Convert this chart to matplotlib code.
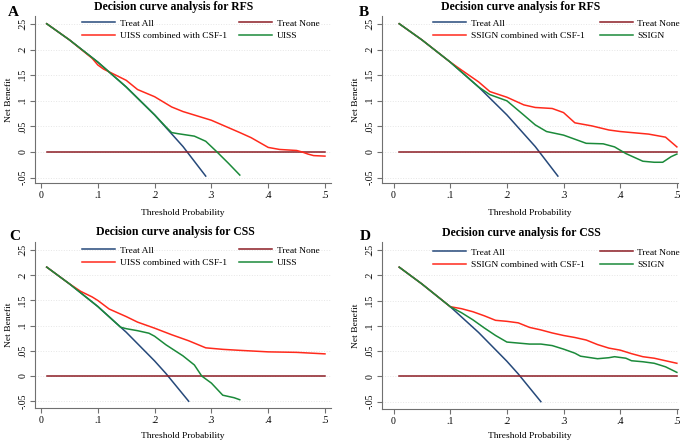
import matplotlib
matplotlib.use("Agg")
import matplotlib.pyplot as plt

plt.rcParams['font.family'] = ['Liberation Serif', 'DejaVu Serif']

# ---------------- data ----------------
# Treat All (RFS)
ta_rfs_x = [0.01, 0.05, 0.10, 0.15, 0.20, 0.25, 0.29]
ta_rfs_y = [0.2505, 0.219, 0.1756, 0.127, 0.0725, 0.0107, -0.047]
# Treat All (CSS)
ta_css_x = [0.01, 0.05, 0.10, 0.15, 0.20, 0.22, 0.26]
ta_css_y = [0.2162, 0.183, 0.138, 0.087, 0.030, 0.005, -0.050]
# Treat None
tn_x = [0.01, 0.50]
tn_y = [0.0, 0.0]

# Panel A
a_red_x = [0.01, 0.05, 0.09, 0.10, 0.11, 0.13, 0.15, 0.17, 0.20, 0.23, 0.25, 0.30,
           0.35, 0.37, 0.40, 0.42, 0.45, 0.46, 0.47, 0.48, 0.50]
a_red_y = [0.2505, 0.219, 0.183, 0.170, 0.162, 0.151, 0.140, 0.122, 0.108, 0.088, 0.079,
           0.062, 0.038, 0.028, 0.009, 0.005, 0.003, 0.0, -0.004, -0.007, -0.008]
a_grn_x = [0.01, 0.05, 0.10, 0.15, 0.20, 0.22, 0.23, 0.24, 0.27, 0.29, 0.31, 0.33, 0.35]
a_grn_y = [0.2505, 0.219, 0.1756, 0.127, 0.0725, 0.049, 0.038, 0.036, 0.031, 0.021,
           0.0, -0.022, -0.045]

# Panel B
b_red_x = [0.01, 0.05, 0.10, 0.12, 0.15, 0.17, 0.20, 0.23, 0.25, 0.28, 0.30, 0.32,
           0.35, 0.38, 0.40, 0.45, 0.48, 0.50]
b_red_y = [0.2505, 0.219, 0.1756, 0.160, 0.137, 0.118, 0.107, 0.092, 0.087, 0.085,
           0.077, 0.057, 0.051, 0.043, 0.040, 0.035, 0.029, 0.010]
b_grn_x = [0.01, 0.05, 0.10, 0.15, 0.17, 0.20, 0.23, 0.25, 0.27, 0.30, 0.32, 0.34,
           0.37, 0.39, 0.41, 0.44, 0.46, 0.475, 0.49, 0.50]
b_grn_y = [0.2505, 0.219, 0.1756, 0.127, 0.112, 0.100, 0.072, 0.053, 0.040, 0.033,
           0.025, 0.017, 0.016, 0.010, -0.003, -0.018, -0.020, -0.020, -0.009, -0.004]

# Panel C
c_red_x = [0.01, 0.05, 0.07, 0.09, 0.10, 0.12, 0.15, 0.17, 0.20, 0.23, 0.26, 0.29,
           0.32, 0.35, 0.40, 0.45, 0.50]
c_red_y = [0.2162, 0.183, 0.168, 0.157, 0.150, 0.133, 0.118, 0.107, 0.095, 0.082,
           0.070, 0.056, 0.053, 0.051, 0.048, 0.047, 0.044]
c_grn_x = [0.01, 0.05, 0.10, 0.14, 0.15, 0.17, 0.19, 0.20, 0.22, 0.25, 0.27, 0.283,
           0.30, 0.32, 0.34, 0.35]
c_grn_y = [0.2162, 0.183, 0.138, 0.097, 0.094, 0.090, 0.085, 0.079, 0.062, 0.040,
           0.022, 0.0, -0.014, -0.038, -0.043, -0.047]

# Panel D
d_red_x = [0.01, 0.05, 0.10, 0.12, 0.14, 0.16, 0.18, 0.20, 0.22, 0.24, 0.26, 0.28,
           0.30, 0.32, 0.34, 0.36, 0.38, 0.40, 0.42, 0.44, 0.46, 0.48, 0.50]
d_red_y = [0.2162, 0.183, 0.138, 0.134, 0.128, 0.120, 0.111, 0.109, 0.106, 0.097,
           0.092, 0.086, 0.081, 0.077, 0.072, 0.063, 0.056, 0.052, 0.045, 0.039,
           0.036, 0.031, 0.026]
d_grn_x = [0.01, 0.05, 0.10, 0.12, 0.14, 0.16, 0.18, 0.20, 0.22, 0.24, 0.26, 0.28,
           0.30, 0.32, 0.33, 0.36, 0.38, 0.39, 0.41, 0.42, 0.44, 0.46, 0.48, 0.50]
d_grn_y = [0.2162, 0.183, 0.138, 0.126, 0.112, 0.096, 0.081, 0.068, 0.066, 0.064,
           0.064, 0.061, 0.054, 0.046, 0.040, 0.035, 0.037, 0.039, 0.036, 0.031,
           0.029, 0.026, 0.019, 0.008]

xticks = [0, 0.1, 0.2, 0.3, 0.4, 0.5]
xticklabels = ['0', '.1', '.2', '.3', '.4', '.5']
yticks = [-0.05, 0, 0.05, 0.1, 0.15, 0.2, 0.25]
yticklabels = ['-.05', '0', '.05', '.1', '.15', '.2', '.25']

C_ALL = '#26497a'
C_NONE = '#8c1c24'
C_RED = '#ff2a1c'
C_GRN = '#1b8a3a'

W, H = 685, 442
fig = plt.figure(figsize=(W / 100, H / 100), dpi=100)


def px_axes(left, right, top, bottom):
    return fig.add_axes([left / W, 1 - bottom / H, (right - left) / W, (bottom - top) / H])


panels = [
    dict(box=(35, 331, 16, 183), xlim=(-0.0106, 0.5106), ylim=(-0.0605, 0.2656),
         ta=(ta_rfs_x, ta_rfs_y), red=(a_red_x, a_red_y), grn=(a_grn_x, a_grn_y),
         model='UISS', title='Decision curve analysis for RFS', letter='A',
         title_xy=(174, 7), letter_xy=(13, 13), leg_xy=(82, 19), colsp=1.3, xlp=7),
    dict(box=(382, 678, 16, 183), xlim=(-0.0204, 0.502), ylim=(-0.0605, 0.2656),
         ta=(ta_rfs_x, ta_rfs_y), red=(b_red_x, b_red_y), grn=(b_grn_x, b_grn_y),
         model='SSIGN', title='Decision curve analysis for RFS', letter='B',
         title_xy=(521, 7), letter_xy=(364, 12), leg_xy=(433, 19), colsp=1.6, xlp=7),
    dict(box=(35, 331, 242, 408), xlim=(-0.0106, 0.5106), ylim=(-0.0634, 0.266),
         ta=(ta_css_x, ta_css_y), red=(c_red_x, c_red_y), grn=(c_grn_x, c_grn_y),
         model='UISS', title='Decision curve analysis for CSS', letter='C',
         title_xy=(175, 232), letter_xy=(15, 237), leg_xy=(82, 246), colsp=1.3, xlp=5),
    dict(box=(382, 678, 242, 409), xlim=(-0.0204, 0.502), ylim=(-0.0645, 0.266),
         ta=(ta_css_x, ta_css_y), red=(d_red_x, d_red_y), grn=(d_grn_x, d_grn_y),
         model='SSIGN', title='Decision curve analysis for CSS', letter='D',
         title_xy=(521, 233), letter_xy=(365, 237), leg_xy=(433, 248), colsp=1.6, xlp=4.5),
]

for p in panels:
    ax = px_axes(*p['box'])
    ax.set_xlim(*p['xlim'])
    ax.set_ylim(*p['ylim'])
    for s in ['top', 'right']:
        ax.spines[s].set_visible(False)
    for s in ['left', 'bottom']:
        ax.spines[s].set_color('#707070')
        ax.spines[s].set_linewidth(0.8)
    ax.set_xticks(xticks)
    ax.set_xticklabels(xticklabels)
    ax.set_yticks(yticks)
    ax.set_yticklabels(yticklabels, rotation=90, va='center')
    ax.tick_params(axis='both', labelsize=7, color='#707070', length=3.5, width=0.8,
                   direction='out', pad=2)
    ax.grid(axis='y', color='#e6e6e6', linestyle=':', linewidth=0.7)
    ax.set_axisbelow(True)

    l_all, = ax.plot(*p['ta'], color=C_ALL, lw=1.1, label='Treat All')
    l_none, = ax.plot(tn_x, tn_y, color=C_NONE, lw=1.1, label='Treat None')
    l_red, = ax.plot(*p['red'], color=C_RED, lw=1.1,
                     label=p['model'] + ' combined with CSF-1')
    l_grn, = ax.plot(*p['grn'], color=C_GRN, lw=1.1, label=p['model'])

    ax.set_ylabel('Net Benefit', fontsize=6.8, labelpad=4)
    ax.set_xlabel('Threshold Probability', fontsize=6.8, labelpad=p['xlp'])

    lx, ly = p['leg_xy']
    fig.legend([l_all, l_red, l_none, l_grn],
               ['Treat All', p['model'] + ' combined with CSF-1', 'Treat None', p['model']],
               loc='upper left', bbox_to_anchor=(lx / W, 1 - ly / H), ncol=2,
               frameon=False, fontsize=6.8, handlelength=3.5, handletextpad=0.5,
               columnspacing=p['colsp'],
               labelspacing=0.45, borderaxespad=0, borderpad=0)

    tx, ty = p['title_xy']
    fig.text(tx / W, 1 - ty / H, p['title'], ha='center', va='center',
             fontsize=8.5, fontweight='bold')
    lx2, ly2 = p['letter_xy']
    fig.text(lx2 / W, 1 - ly2 / H, p['letter'], ha='center', va='center',
             fontsize=11, fontweight='bold')

fig.savefig('out.png', dpi=100)
